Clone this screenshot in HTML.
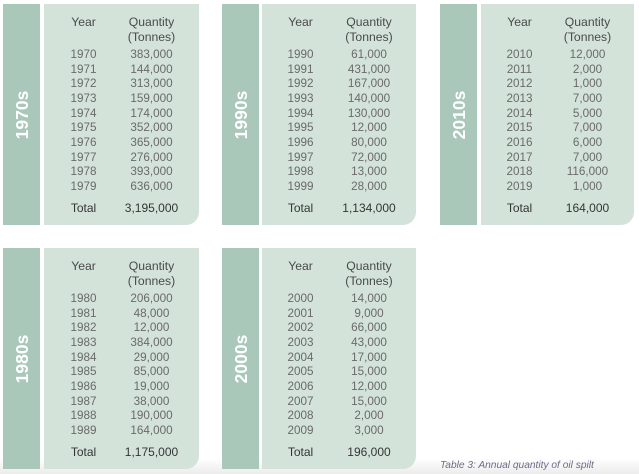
<!DOCTYPE html>
<html>
<head>
<meta charset="utf-8">
<style>
html,body{margin:0;padding:0;}
body{width:639px;height:474px;position:relative;overflow:hidden;background:linear-gradient(to bottom,#ffffff 0px,#ffffff 458px,#ececec 474px);font-family:"Liberation Sans",sans-serif;}
.box{position:absolute;width:196px;height:221px;}
.bar{position:absolute;left:0;top:0;width:37px;height:221px;background:#a9c8b9;}
.pan{position:absolute;left:41px;top:0;width:155px;height:221px;background:#d3e3da;border-bottom-right-radius:13px;}
.lab{position:absolute;left:18.5px;top:110.5px;transform:translate(-50%,-50%) rotate(-90deg);color:#fff;font-weight:bold;font-size:17.5px;white-space:nowrap;line-height:20px;}
.t{position:absolute;width:90px;height:14px;line-height:14px;font-size:11.7px;text-align:center;color:#6a6a6a;white-space:nowrap;}
.y{left:34.5px;}
.q{left:102.5px;}
.h{color:#4a4a4a;font-size:12.2px;}
.tot{color:#353535;font-size:12px;}
.cap{position:absolute;left:440px;top:460px;font-size:10.2px;font-style:italic;color:#6c6c88;white-space:nowrap;line-height:12px;}
</style>
</head>
<body>

<div class="box" style="left:3px;top:4px;">
<div class="bar"></div><div class="pan"></div>
<div class="lab">1970s</div>
<div class="t y h" style="top:11px;left:35.5px">Year</div>
<div class="t q h" style="top:11px;left:103.5px">Quantity</div>
<div class="t q h" style="top:26px;left:103.5px">(Tonnes)</div>
<div class="t y" style="top:44px;left:35.5px">1970</div><div class="t q" style="top:44px;left:103.5px">383,000</div>
<div class="t y" style="top:58.67px;left:35.5px">1971</div><div class="t q" style="top:58.67px;left:103.5px">144,000</div>
<div class="t y" style="top:73.33px;left:35.5px">1972</div><div class="t q" style="top:73.33px;left:103.5px">313,000</div>
<div class="t y" style="top:88px;left:35.5px">1973</div><div class="t q" style="top:88px;left:103.5px">159,000</div>
<div class="t y" style="top:102.67px;left:35.5px">1974</div><div class="t q" style="top:102.67px;left:103.5px">174,000</div>
<div class="t y" style="top:117.33px;left:35.5px">1975</div><div class="t q" style="top:117.33px;left:103.5px">352,000</div>
<div class="t y" style="top:132px;left:35.5px">1976</div><div class="t q" style="top:132px;left:103.5px">365,000</div>
<div class="t y" style="top:146.67px;left:35.5px">1977</div><div class="t q" style="top:146.67px;left:103.5px">276,000</div>
<div class="t y" style="top:161.33px;left:35.5px">1978</div><div class="t q" style="top:161.33px;left:103.5px">393,000</div>
<div class="t y" style="top:176px;left:35.5px">1979</div><div class="t q" style="top:176px;left:103.5px">636,000</div>
<div class="t y tot" style="top:197px;left:35.5px">Total</div><div class="t q tot" style="top:197px;left:103.5px">3,195,000</div>
</div>

<div class="box" style="left:222px;top:4px;">
<div class="bar"></div><div class="pan" style="left:40px;width:154px"></div>
<div class="lab">1990s</div>
<div class="t y h" style="top:11px;left:33.5px">Year</div>
<div class="t q h" style="top:11px;left:102px">Quantity</div>
<div class="t q h" style="top:26px;left:102px">(Tonnes)</div>
<div class="t y" style="top:44px;left:33.5px">1990</div><div class="t q" style="top:44px;left:102px">61,000</div>
<div class="t y" style="top:58.67px;left:33.5px">1991</div><div class="t q" style="top:58.67px;left:102px">431,000</div>
<div class="t y" style="top:73.33px;left:33.5px">1992</div><div class="t q" style="top:73.33px;left:102px">167,000</div>
<div class="t y" style="top:88px;left:33.5px">1993</div><div class="t q" style="top:88px;left:102px">140,000</div>
<div class="t y" style="top:102.67px;left:33.5px">1994</div><div class="t q" style="top:102.67px;left:102px">130,000</div>
<div class="t y" style="top:117.33px;left:33.5px">1995</div><div class="t q" style="top:117.33px;left:102px">12,000</div>
<div class="t y" style="top:132px;left:33.5px">1996</div><div class="t q" style="top:132px;left:102px">80,000</div>
<div class="t y" style="top:146.67px;left:33.5px">1997</div><div class="t q" style="top:146.67px;left:102px">72,000</div>
<div class="t y" style="top:161.33px;left:33.5px">1998</div><div class="t q" style="top:161.33px;left:102px">13,000</div>
<div class="t y" style="top:176px;left:33.5px">1999</div><div class="t q" style="top:176px;left:102px">28,000</div>
<div class="t y tot" style="top:197px;left:33.5px">Total</div><div class="t q tot" style="top:197px;left:102px">1,134,000</div>
</div>

<div class="box" style="left:440px;top:4px;">
<div class="bar"></div><div class="pan" style="width:153px"></div>
<div class="lab">2010s</div>
<div class="t y h" style="top:11px;left:34.5px">Year</div>
<div class="t q h" style="top:11px;left:102.5px">Quantity</div>
<div class="t q h" style="top:26px;left:102.5px">(Tonnes)</div>
<div class="t y" style="top:44px;left:34.5px">2010</div><div class="t q" style="top:44px;left:102.5px">12,000</div>
<div class="t y" style="top:58.67px;left:34.5px">2011</div><div class="t q" style="top:58.67px;left:102.5px">2,000</div>
<div class="t y" style="top:73.33px;left:34.5px">2012</div><div class="t q" style="top:73.33px;left:102.5px">1,000</div>
<div class="t y" style="top:88px;left:34.5px">2013</div><div class="t q" style="top:88px;left:102.5px">7,000</div>
<div class="t y" style="top:102.67px;left:34.5px">2014</div><div class="t q" style="top:102.67px;left:102.5px">5,000</div>
<div class="t y" style="top:117.33px;left:34.5px">2015</div><div class="t q" style="top:117.33px;left:102.5px">7,000</div>
<div class="t y" style="top:132px;left:34.5px">2016</div><div class="t q" style="top:132px;left:102.5px">6,000</div>
<div class="t y" style="top:146.67px;left:34.5px">2017</div><div class="t q" style="top:146.67px;left:102.5px">7,000</div>
<div class="t y" style="top:161.33px;left:34.5px">2018</div><div class="t q" style="top:161.33px;left:102.5px">116,000</div>
<div class="t y" style="top:176px;left:34.5px">2019</div><div class="t q" style="top:176px;left:102.5px">1,000</div>
<div class="t y tot" style="top:197px;left:34.5px">Total</div><div class="t q tot" style="top:197px;left:102.5px">164,000</div>
</div>

<div class="box" style="left:3px;top:248px;">
<div class="bar"></div><div class="pan"></div>
<div class="lab">1980s</div>
<div class="t y h" style="top:11px;left:35.5px">Year</div>
<div class="t q h" style="top:11px;left:103.5px">Quantity</div>
<div class="t q h" style="top:26px;left:103.5px">(Tonnes)</div>
<div class="t y" style="top:44px;left:35.5px">1980</div><div class="t q" style="top:44px;left:103.5px">206,000</div>
<div class="t y" style="top:58.67px;left:35.5px">1981</div><div class="t q" style="top:58.67px;left:103.5px">48,000</div>
<div class="t y" style="top:73.33px;left:35.5px">1982</div><div class="t q" style="top:73.33px;left:103.5px">12,000</div>
<div class="t y" style="top:88px;left:35.5px">1983</div><div class="t q" style="top:88px;left:103.5px">384,000</div>
<div class="t y" style="top:102.67px;left:35.5px">1984</div><div class="t q" style="top:102.67px;left:103.5px">29,000</div>
<div class="t y" style="top:117.33px;left:35.5px">1985</div><div class="t q" style="top:117.33px;left:103.5px">85,000</div>
<div class="t y" style="top:132px;left:35.5px">1986</div><div class="t q" style="top:132px;left:103.5px">19,000</div>
<div class="t y" style="top:146.67px;left:35.5px">1987</div><div class="t q" style="top:146.67px;left:103.5px">38,000</div>
<div class="t y" style="top:161.33px;left:35.5px">1988</div><div class="t q" style="top:161.33px;left:103.5px">190,000</div>
<div class="t y" style="top:176px;left:35.5px">1989</div><div class="t q" style="top:176px;left:103.5px">164,000</div>
<div class="t y tot" style="top:197px;left:35.5px">Total</div><div class="t q tot" style="top:197px;left:103.5px">1,175,000</div>
</div>

<div class="box" style="left:222px;top:248px;">
<div class="bar"></div><div class="pan" style="left:40px;width:154px"></div>
<div class="lab">2000s</div>
<div class="t y h" style="top:11px;left:33.5px">Year</div>
<div class="t q h" style="top:11px;left:102px">Quantity</div>
<div class="t q h" style="top:26px;left:102px">(Tonnes)</div>
<div class="t y" style="top:44px;left:33.5px">2000</div><div class="t q" style="top:44px;left:102px">14,000</div>
<div class="t y" style="top:58.67px;left:33.5px">2001</div><div class="t q" style="top:58.67px;left:102px">9,000</div>
<div class="t y" style="top:73.33px;left:33.5px">2002</div><div class="t q" style="top:73.33px;left:102px">66,000</div>
<div class="t y" style="top:88px;left:33.5px">2003</div><div class="t q" style="top:88px;left:102px">43,000</div>
<div class="t y" style="top:102.67px;left:33.5px">2004</div><div class="t q" style="top:102.67px;left:102px">17,000</div>
<div class="t y" style="top:117.33px;left:33.5px">2005</div><div class="t q" style="top:117.33px;left:102px">15,000</div>
<div class="t y" style="top:132px;left:33.5px">2006</div><div class="t q" style="top:132px;left:102px">12,000</div>
<div class="t y" style="top:146.67px;left:33.5px">2007</div><div class="t q" style="top:146.67px;left:102px">15,000</div>
<div class="t y" style="top:161.33px;left:33.5px">2008</div><div class="t q" style="top:161.33px;left:102px">2,000</div>
<div class="t y" style="top:176px;left:33.5px">2009</div><div class="t q" style="top:176px;left:102px">3,000</div>
<div class="t y tot" style="top:197px;left:33.5px">Total</div><div class="t q tot" style="top:197px;left:102px">196,000</div>
</div>

<div class="cap">Table 3: Annual quantity of oil spilt</div>

</body>
</html>
